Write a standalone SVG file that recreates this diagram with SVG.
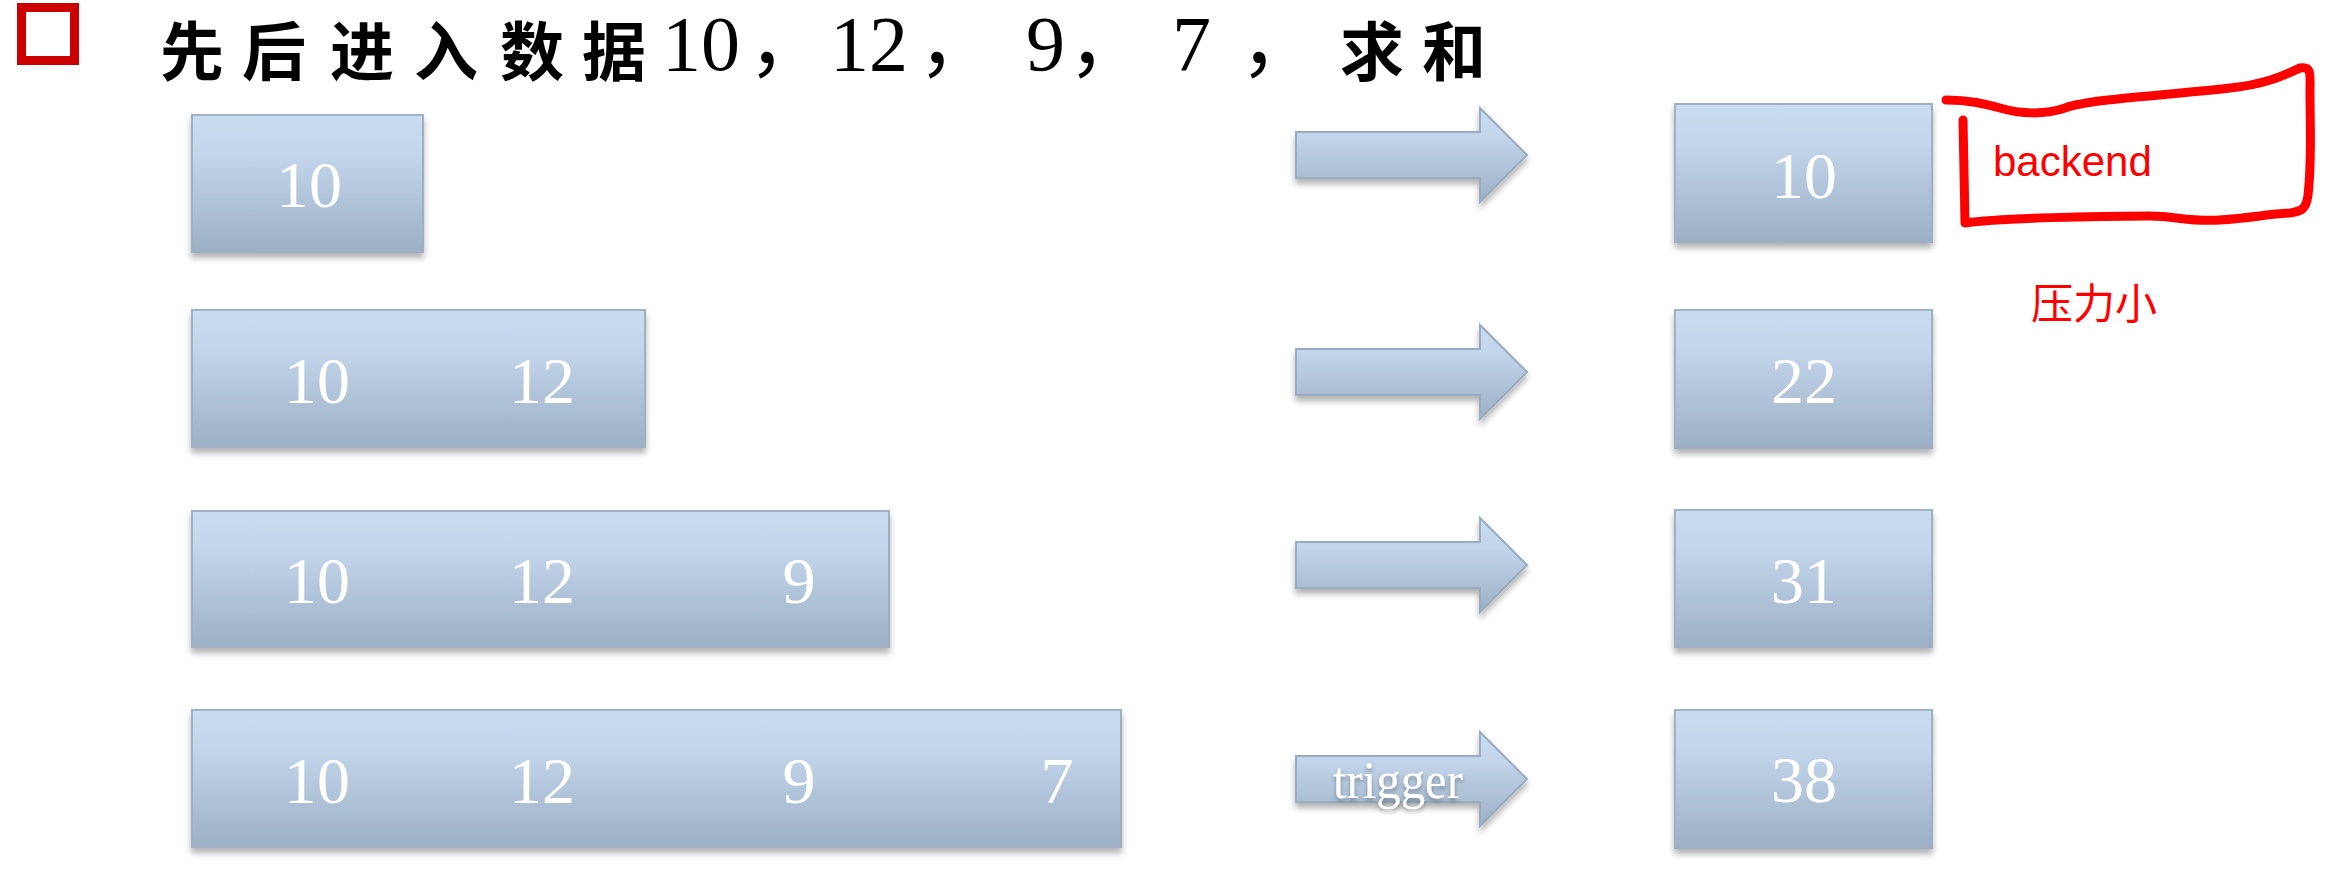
<svg xmlns="http://www.w3.org/2000/svg" width="2350" height="878" viewBox="0 0 2350 878">
<style>
.box{fill:url(#g);stroke:#9fb0c4;stroke-width:2;filter:url(#sh)}
.num{font-family:"Liberation Serif","Times New Roman",serif;font-size:66px;fill:#ffffff;text-anchor:middle}
.arrow{fill:url(#g);stroke:#9aacc1;stroke-width:2;filter:url(#sh)}
.title-cjk{font-family:"Noto Sans CJK SC","Noto Sans CJK JP",sans-serif;font-size:64px;font-weight:700;fill:#000}
.title-num{font-family:"Liberation Serif","Noto Sans CJK SC",serif;font-size:78px;fill:#000}
.red{font-family:"Liberation Sans","Noto Sans CJK SC",sans-serif;font-size:42px;fill:#ff0000}
</style>
<defs>
<linearGradient id="g" x1="0" y1="0" x2="0" y2="1">
<stop offset="0" stop-color="#cadcf0"/>
<stop offset="0.3" stop-color="#c2d5ea"/>
<stop offset="1" stop-color="#9cb0c5"/>
</linearGradient>
<filter id="sh" x="-5%" y="-10%" width="110%" height="130%">
<feDropShadow dx="0" dy="5" stdDeviation="3" flood-color="#000" flood-opacity="0.3"/>
</filter>
<filter id="tsh" x="-10%" y="-20%" width="120%" height="150%">
<feDropShadow dx="0" dy="3" stdDeviation="2" flood-color="#000" flood-opacity="0.3"/>
</filter>
</defs>
<rect width="2350" height="878" fill="#ffffff"/>

<g id="title">
<rect x="21.5" y="7.5" width="53" height="53" fill="none" stroke="#cc0000" stroke-width="9"/>
<text><tspan class="title-cjk" x="160 242 330 414 500 582" y="75">先后进入数据</tspan><tspan class="title-num" x="662" y="70">10</tspan><tspan class="title-num" x="748" y="70">，</tspan><tspan class="title-num" x="830" y="70">12</tspan><tspan class="title-num" x="918" y="70">，</tspan><tspan class="title-num" x="1026" y="70">9</tspan><tspan class="title-num" x="1068" y="70">，</tspan><tspan class="title-num" x="1172" y="70">7</tspan><tspan class="title-num" x="1240" y="70">，</tspan><tspan class="title-cjk" x="1340 1422" y="75">求和</tspan></text>
</g>

<g id="in1">
<rect class="box" x="192" y="115" width="231" height="137"/>
<text class="num" x="309" y="207">10</text>
</g>
<g id="in2">
<rect class="box" x="192" y="310" width="453" height="137"/>
<text class="num" x="317" y="403">10</text>
<text class="num" x="542" y="403">12</text>
</g>
<g id="in3">
<rect class="box" x="192" y="511" width="697" height="136"/>
<text class="num" x="317" y="603">10</text>
<text class="num" x="542" y="603">12</text>
<text class="num" x="799" y="603">9</text>
</g>
<g id="in4">
<rect class="box" x="192" y="710" width="929" height="137"/>
<text class="num" x="317" y="803">10</text>
<text class="num" x="542" y="803">12</text>
<text class="num" x="799" y="803">9</text>
<text class="num" x="1057" y="803">7</text>
</g>

<g id="out1">
<rect class="box" x="1675" y="104" width="257" height="138"/>
<text class="num" x="1804" y="198">10</text>
</g>
<g id="out2">
<rect class="box" x="1675" y="310" width="257" height="138"/>
<text class="num" x="1804" y="403">22</text>
</g>
<g id="out3">
<rect class="box" x="1675" y="510" width="257" height="137"/>
<text class="num" x="1804" y="603">31</text>
</g>
<g id="out4">
<rect class="box" x="1675" y="710" width="257" height="138"/>
<text class="num" x="1804" y="802">38</text>
</g>

<g id="connectors">
<path class="arrow" d="M1296,132 H1480 V108 L1527,155 L1480,202 V178 H1296 Z"/>
<path class="arrow" d="M1296,349 H1480 V325 L1527,372 L1480,419 V395 H1296 Z"/>
<path class="arrow" d="M1296,542 H1480 V518 L1527,565 L1480,612 V588 H1296 Z"/>
<path class="arrow" d="M1296,756 H1480 V732 L1527,779 L1480,826 V802 H1296 Z"/>
<text x="1398" y="798" font-family="Liberation Serif, Times New Roman, serif" font-size="52" fill="#ffffff" text-anchor="middle" textLength="130" lengthAdjust="spacingAndGlyphs" filter="url(#tsh)">trigger</text>
</g>

<g id="annotation">
<path d="M1946,100 C1970,100 1985,104 2000,108 C2020,114 2045,115 2065,108 C2090,99 2160,96 2230,88 C2270,84 2290,72 2300,68 C2312,66 2310,74 2310,92 C2310,130 2312,160 2308,195 C2306,211 2300,211 2290,213 C2270,214 2250,218 2220,220 C2190,222 2175,216 2150,216 C2100,216 2000,218 1965,223 L1963,120" fill="none" stroke="#ff0000" stroke-width="9" stroke-linecap="round" stroke-linejoin="round"/>
<text class="red" x="1993" y="176">backend</text>
<text class="red" x="2031" y="319">压力小</text>
</g>
</svg>
